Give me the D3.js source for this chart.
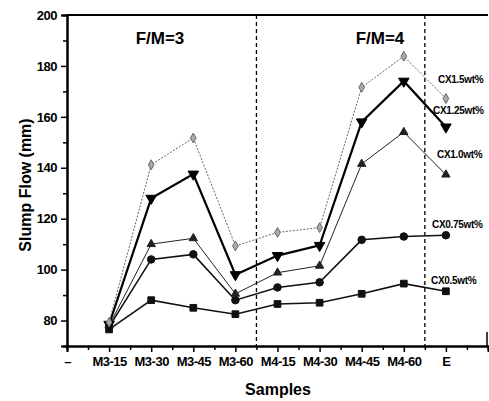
<!DOCTYPE html>
<html>
<head>
<meta charset="utf-8">
<script src="https://cdn.jsdelivr.net/npm/d3@7"></script>
<style>
  body { margin: 0; background: #fff; }
  svg { display: block; font-family: "Liberation Sans", Arial, sans-serif; }
</style>
</head>
<body>
<svg id="chart" width="489" height="401"></svg>
<script>
const categories = ["\u2013", "M3-15", "M3-30", "M3-45", "M3-60", "M4-15", "M4-30", "M4-45", "M4-60", "E"]
const sampleIdx = [1, 2, 3, 4, 5, 6, 7, 8, 9]
const cx05 = [76.5, 88, 85, 82.5, 86.5, 87, 90.5, 94.5, 91.5]
const cx075 = [77.5, 104, 106, 88, 93, 95, 111.7, 113, 113.5]
const cx10 = [78, 110, 112.3, 90.5, 98.8, 101.5, 141.5, 154, 137.3]
const cx125 = [78.5, 128, 137.5, 98, 105.5, 109.5, 158, 174, 156]
const cx15 = [79.3, 141.2, 151.7, 109.3, 114.6, 116.5, 171.6, 183.8, 167.2]
const yTicks = [80, 100, 120, 140, 160, 180, 200]
const groupLabels = ["F/M=3", "F/M=4"]
const seriesLabels = ["CX1.5wt%", "CX1.25wt%", "CX1.0wt%", "CX0.75wt%", "CX0.5wt%"]

const svg = d3.select("#chart")
const margins = { top: 15, left: 67, bottom: 55, right: 1 }
const width = 489 - margins.left - margins.right
const height = 401 - margins.top - margins.bottom

const x = d3.scaleLinear().domain([0, 10]).range([margins.left, margins.left + width])
const y = d3.scaleLinear().domain([70, 200]).range([margins.top + height, margins.top])

// dashed group separators
;[4.5, 8.5].forEach(v => {
    svg.append("line")
        .attr("x1", x(v)).attr("x2", x(v))
        .attr("y1", y(200)).attr("y2", y(70))
        .attr("stroke", "#000").attr("stroke-width", 1.3)
        .attr("stroke-dasharray", "4,3")
})

// top frame line
svg.append("line")
    .attr("x1", x(0)).attr("x2", x(10))
    .attr("y1", y(200)).attr("y2", y(200))
    .attr("stroke", "#000").attr("stroke-width", 2)
svg.append("line")
    .attr("x1", x(10) - 1).attr("x2", x(10) - 1)
    .attr("y1", y(75.5)).attr("y2", y(70))
    .attr("stroke", "#000").attr("stroke-width", 1.5)

// axes
const yAxis = d3.axisLeft(y).tickValues(yTicks).tickSize(6).tickPadding(4)
const yMinor = d3.axisLeft(y).tickValues(d3.range(70, 200, 10).filter(v => v % 20 !== 0)).tickSize(4).tickFormat("")
const xAxis = d3.axisBottom(x).tickValues(d3.range(0, 10)).tickSize(6).tickPadding(5)
    .tickFormat(d => categories[d])
const xMinor = d3.axisBottom(x).tickValues(d3.range(0.5, 10, 0.5).filter(v => v % 1 !== 0)).tickSize(4).tickFormat("")

function styleAxis(g) {
    g.select(".domain").attr("stroke-width", 2)
    g.selectAll(".tick line").attr("stroke-width", 1.5)
    g.selectAll("text").attr("font-size", 13).attr("font-weight", "bold").attr("fill", "#000")
        .attr("letter-spacing", "-0.5")
}

svg.append("g").attr("transform", "translate(" + margins.left + ",0)").call(yMinor).call(styleAxis)
svg.append("g").attr("transform", "translate(" + margins.left + ",0)").call(yAxis).call(styleAxis)
svg.append("g").attr("transform", "translate(0," + y(70) + ")").call(xMinor).call(styleAxis)
svg.append("g").attr("transform", "translate(0," + y(70) + ")").call(xAxis).call(styleAxis)

// series
const series = [
    { values: cx05, sym: d3.symbolSquare, size: 45, width: 1.6, dash: null, color: "#111", fill: "#111" },
    { values: cx075, sym: d3.symbolCircle, size: 45, width: 1.6, dash: null, color: "#111", fill: "#111" },
    { values: cx10, sym: d3.symbolTriangle, size: 30, width: 1, dash: null, color: "#222", fill: "#222", rot: 0 },
    { values: cx125, sym: d3.symbolTriangle, size: 48, width: 2.2, dash: null, color: "#000", fill: "#000", rot: 180 },
    { values: cx15, sym: d3.symbolDiamond, size: 28, width: 1, dash: "2,1.5", color: "#666", fill: "#aaa" }
]

const line = d3.line()
    .x((d, i) => x(sampleIdx[i]))
    .y(d => y(d))

series.forEach(s => {
    svg.append("path")
        .attr("d", line(s.values))
        .attr("fill", "none")
        .attr("stroke", s.color)
        .attr("stroke-width", s.width)
        .attr("stroke-dasharray", s.dash)

    svg.selectAll(null).data(s.values).enter().append("path")
        .attr("d", d3.symbol().type(s.sym).size(s.size))
        .attr("transform", (d, i) => "translate(" + x(sampleIdx[i]) + "," + y(d) + ") rotate(" + (s.rot || 0) + ")")
        .attr("fill", s.fill)
        .attr("stroke", s.color)
        .attr("stroke-width", 1)
})

// group labels
svg.append("text").attr("x", 160).attr("y", 44).attr("text-anchor", "middle")
    .attr("font-size", 17).attr("font-weight", "bold").text(groupLabels[0])
svg.append("text").attr("x", 380).attr("y", 44).attr("text-anchor", "middle")
    .attr("font-size", 17).attr("font-weight", "bold").text(groupLabels[1])

// series labels
const labelPos = [[438, 83], [433, 114], [437, 158], [432, 228], [431, 284]]
seriesLabels.forEach((t, i) => {
    svg.append("text")
        .attr("x", labelPos[i][0]).attr("y", labelPos[i][1])
        .attr("font-size", 10).attr("font-weight", "bold")
        .attr("letter-spacing", "-0.3")
        .text(t)
})

// axis titles
svg.append("text")
    .attr("x", 278).attr("y", 395).attr("text-anchor", "middle")
    .attr("font-size", 16).attr("font-weight", "bold").text("Samples")
svg.append("text")
    .attr("transform", "translate(31,185) rotate(-90)").attr("text-anchor", "middle")
    .attr("font-size", 16).attr("font-weight", "bold").text("Slump Flow (mm)")
</script>
</body>
</html>
